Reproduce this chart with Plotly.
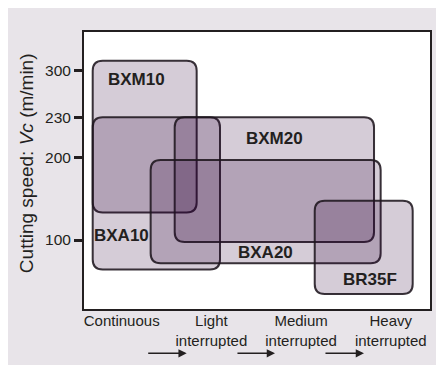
import plotly.graph_objects as go

# cutting conditions along x (category index 0..3)
conditions = ["Continuous", "Light<br>interrupted", "Medium<br>interrupted", "Heavy<br>interrupted"]

# cutting speed ticks: position on the vertical scale and label
speed_pos = [2.49, 5.48, 6.92, 8.60]
speed_lbl = ["100", "200", "230", "300"]

# application ranges of each grade (x: condition index, y: scale position)
grades = ["BXM10", "BXA10", "BXM20", "BXA20", "BR35F"]
x_lo = [-0.323, -0.323, 0.591, 0.323, 2.152]
x_hi = [0.836, 1.096, 2.813, 2.887, 3.244]
y_lo = [3.48, 1.43, 2.42, 1.65, 0.54]
y_hi = [8.96, 6.92, 6.92, 5.38, 3.91]

# where the grade names sit
lbl_x = [0.16, 0.0, 1.70, 1.60, 2.77]
lbl_y = [8.28, 2.65, 6.14, 2.05, 1.07]

# arrows between the conditions
arrow_from = [0.279, 1.274, 2.255]
arrow_to = [0.725, 1.709, 2.701]

ink = "#231f20"
rx, ry = 0.111, 0.361   # corner radius in axis units


def rounded(x0, x1, y0, y1):
    return (f"M {x0 + rx},{y0} L {x1 - rx},{y0} Q {x1},{y0} {x1},{y0 + ry} "
            f"L {x1},{y1 - ry} Q {x1},{y1} {x1 - rx},{y1} "
            f"L {x0 + rx},{y1} Q {x0},{y1} {x0},{y1 - ry} "
            f"L {x0},{y0 + ry} Q {x0},{y0} {x0 + rx},{y0} Z")


fig = go.Figure()

# invisible trace so the axes exist
fig.add_trace(go.Scatter(x=lbl_x, y=lbl_y, mode="markers",
                         marker=dict(opacity=0), hoverinfo="skip", showlegend=False))

for i in range(len(grades)):
    fig.add_shape(type="path", path=rounded(x_lo[i], x_hi[i], y_lo[i], y_hi[i]),
                  xref="x", yref="y",
                  fillcolor="rgba(45,0,55,0.2)",
                  line=dict(color="rgba(30,22,30,0.88)", width=2))

for i, g in enumerate(grades):
    fig.add_annotation(x=lbl_x[i], y=lbl_y[i], text=f"<b>{g}</b>", showarrow=False,
                       font=dict(size=17, color=ink, family="Liberation Sans"))

for a, b in zip(arrow_from, arrow_to):
    fig.add_annotation(x=b, y=-0.16, xref="x", yref="paper",
                       ax=a, ay=0, axref="x", ayref="pixel",
                       text="", showarrow=True, arrowhead=2, arrowsize=1.1,
                       arrowwidth=1.5, arrowcolor=ink, standoff=0)

fig.add_annotation(x=-0.166, y=0.525, xref="paper", yref="paper",
                   text="Cutting speed: <i>Vc</i> (m/min)", textangle=-90,
                   showarrow=False, xanchor="center", yanchor="middle",
                   font=dict(size=19, color=ink, family="Liberation Sans"))

fig.update_layout(
    width=436, height=357,
    margin=dict(l=76, r=14, t=24, b=56),
    paper_bgcolor="#e8e4e9",
    plot_bgcolor="white",
    font=dict(family="Liberation Sans", size=15, color=ink),
    showlegend=False,
    xaxis=dict(range=[-0.42, 3.437], tickvals=[0, 1, 2, 3], ticktext=conditions,
               showgrid=False, zeroline=False, showline=True, mirror=True,
               linecolor=ink, linewidth=2, ticks="", ticklabelstandoff=-3,
               tickfont=dict(size=15)),
    yaxis=dict(range=[0, 10], tickvals=speed_pos, ticktext=speed_lbl,
               showgrid=False, zeroline=False, showline=True, mirror=True,
               linecolor=ink, linewidth=2, ticks="outside", ticklen=8,
               tickwidth=2.5, tickcolor=ink, tickfont=dict(size=15.5)),
)

fig.write_html("out.html")
